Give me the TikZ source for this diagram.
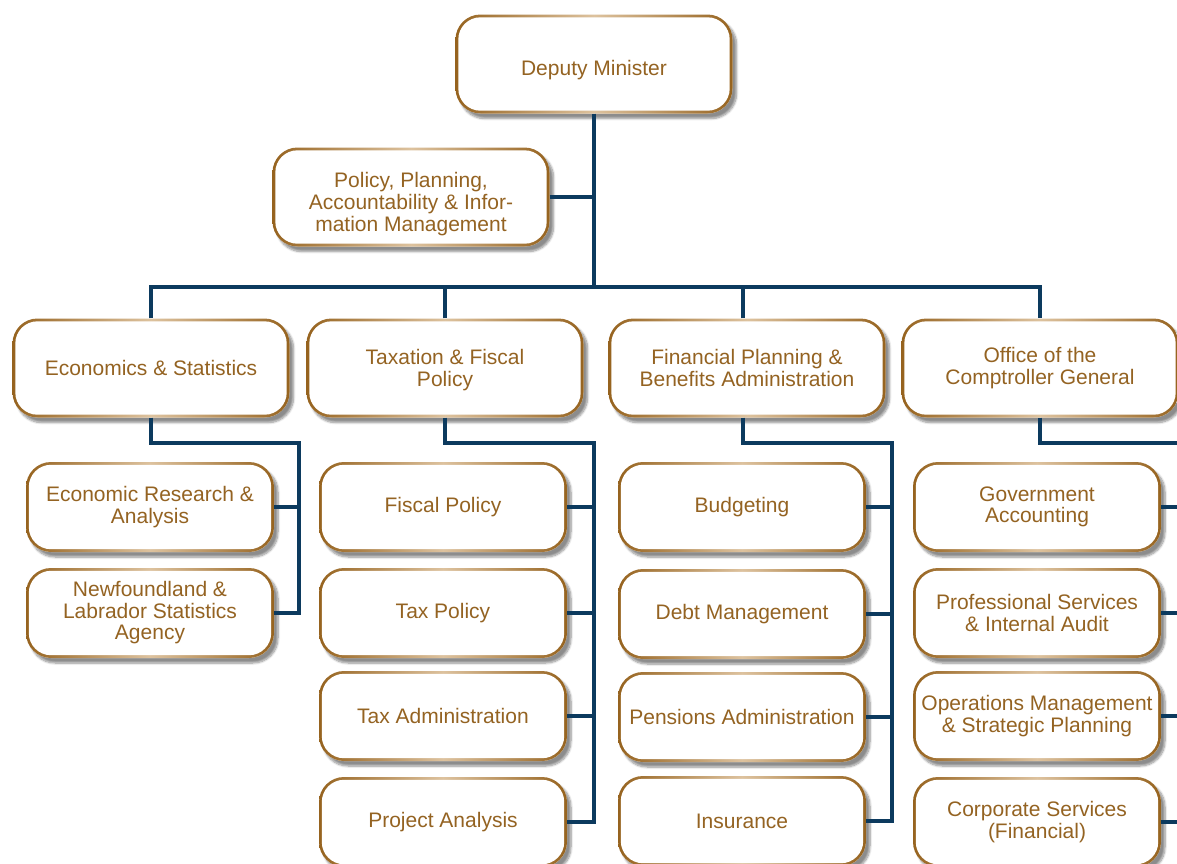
\documentclass[tikz,border=0pt]{standalone}
\usepackage{fontspec}
\setmainfont{Liberation Sans}
\usetikzlibrary{shadows.blur}
\definecolor{boxc}{HTML}{96631F}
\definecolor{boxl}{HTML}{DDC29E}
\definecolor{txt}{HTML}{946322}
\definecolor{conc}{HTML}{0C3A5E}
\newcommand{\lowtext}[2]{\raisebox{-#1}[\height][\depth]{\begin{tabular}{@{}c@{}}#2\end{tabular}}}
\tikzset{
  box/.style={draw=none, rounded corners=25pt, fill=white,
    align=center, text=txt, font=\fontsize{21}{21.5}\selectfont, inner sep=0pt,
    blur shadow={shadow xshift=4pt, shadow yshift=-5pt, shadow blur steps=8, shadow opacity=45},
    path picture={
      \shade[left color=boxc, right color=boxc, middle color=boxl]
        (path picture bounding box.south west) rectangle (path picture bounding box.north east);
      \fill[white, rounded corners=22.2pt]
        ([shift={(2.8pt,2.8pt)}]path picture bounding box.south west) rectangle
        ([shift={(-2.8pt,-2.8pt)}]path picture bounding box.north east);
    }},
  big/.style={box, minimum width=277pt, minimum height=99pt},
  small/.style={box, minimum width=248pt, minimum height=90pt},
  conn/.style={draw=conc, line width=4.8pt}
}
\begin{document}
\begin{tikzpicture}[x=1pt,y=1pt]
\useasboundingbox (0,0) rectangle (1177,-863);
% top level
\node[big] (dm) at (594,-64) {\lowtext{7pt}{Deputy Minister}};
\node[big] (pol) at (411,-197) {\lowtext{8pt}{Policy, Planning,\\Accountability \& Infor-\\mation Management}};
% level 2
\node[big] (econ) at (151,-368) {Economics \& Statistics};
\node[big] (tax) at (445,-368) {\lowtext{3pt}{Taxation \& Fiscal\\Policy}};
\node[big] (fin) at (747,-368) {Financial Planning \&\\Benefits Administration};
\node[big] (off) at (1040,-368) {Office of the\\Comptroller General};
% econ children
\node[small] (er) at (150,-507) {Economic Research \&\\Analysis};
\node[small] (nl) at (150,-613) {Newfoundland \&\\Labrador Statistics\\Agency};
% tax children
\node[small] (fp) at (443,-507) {Fiscal Policy};
\node[small] (tp) at (443,-613) {Tax Policy};
\node[small] (ta) at (443,-716) {Tax Administration};
\node[small] (pa) at (443,-822) {Project Analysis};
% fin children
\node[small] (bu) at (742,-507) {Budgeting};
\node[small] (dbt) at (742,-614) {Debt Management};
\node[small] (pe) at (742,-717) {Pensions Administration};
\node[small] (ins) at (742,-821) {Insurance};
% office children
\node[small] (ga) at (1037,-507) {Government\\Accounting};
\node[small] (ps) at (1037,-613) {Professional Services\\\& Internal Audit};
\node[small] (om) at (1037,-716) {Operations Management\\\& Strategic Planning};
\node[small] (cs) at (1037,-822) {Corporate Services\\(Financial)};
% connectors
\coordinate (bus) at (0,-287);
\coordinate (econR) at (299,-443);
\coordinate (taxR) at (594,-443);
\coordinate (finR) at (892,-443);
\coordinate (offR) at (1195,-443);
\draw[conn] (dm.south) -- (dm.south |- bus);
\draw[conn] (pol.east) -- (pol.east -| dm.south);
\draw[conn] (econ.north) |- (off.north |- bus) -- (off.north);
\draw[conn] (tax.north) -- (tax.north |- bus);
\draw[conn] ([xshift=-4pt]fin.north) -- ([xshift=-4pt]fin.north |- bus);
\draw[conn] (econ.south) |- (econR) |- (nl.east);
\draw[conn] (er.east) -- (er.east -| econR);
\draw[conn] (tax.south) |- (taxR) |- (pa.east);
\draw[conn] (fp.east) -- (fp.east -| taxR);
\draw[conn] (tp.east) -- (tp.east -| taxR);
\draw[conn] (ta.east) -- (ta.east -| taxR);
\draw[conn] ([xshift=-4pt]fin.south) |- (finR) |- (ins.east);
\draw[conn] (bu.east) -- (bu.east -| finR);
\draw[conn] (dbt.east) -- (dbt.east -| finR);
\draw[conn] (pe.east) -- (pe.east -| finR);
\draw[conn] (off.south) |- (offR);
\draw[conn] (ga.east) -- (ga.east -| offR);
\draw[conn] (ps.east) -- (ps.east -| offR);
\draw[conn] (om.east) -- (om.east -| offR);
\draw[conn] (cs.east) -- (cs.east -| offR);
\end{tikzpicture}
\end{document}
